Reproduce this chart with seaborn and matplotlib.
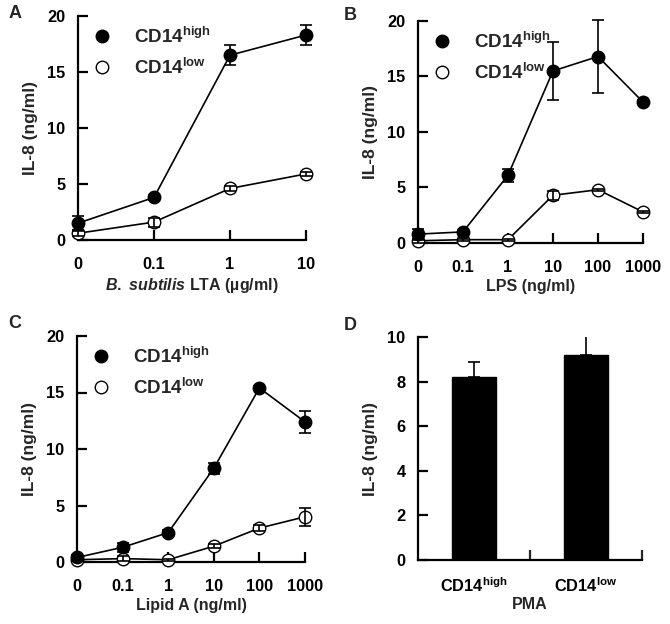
import seaborn as sns
import pandas as pd
import matplotlib.pyplot as plt
from matplotlib.lines import Line2D

# data
lta_doses = ["0", "0.1", "1", "10"]
lta_high = [1.5, 3.8, 16.5, 18.3]
lta_high_err = [0.6, 0.2, 0.9, 0.9]
lta_low = [0.6, 1.6, 4.6, 5.9]
lta_low_err = [0.2, 0.4, 0.2, 0.15]

lps_doses = ["0", "0.1", "1", "10", "100", "1000"]
lps_high = [0.8, 1.0, 6.1, 15.5, 16.8, 12.7]
lps_high_err = [0.5, 0.2, 0.6, 2.6, 3.3, 0.2]
lps_low = [0.2, 0.3, 0.3, 4.3, 4.8, 2.8]
lps_low_err = [0.2, 0.1, 0.1, 0.4, 0.1, 0.1]

lipa_doses = ["0", "0.1", "1", "10", "100", "1000"]
lipa_high = [0.4, 1.3, 2.6, 8.3, 15.4, 12.4]
lipa_high_err = [0.2, 0.4, 0.2, 0.5, 0.2, 1.0]
lipa_low = [0.2, 0.3, 0.2, 1.4, 3.0, 4.0]
lipa_low_err = [0.1, 0.2, 0.1, 0.2, 0.3, 0.8]

pma_groups = ["CD14$^{\\mathregular{high}}$", "CD14$^{\\mathregular{low}}$"]
pma_vals = [8.2, 9.2]
pma_err = [0.7, 0.95]

sns.set_style("ticks")
plt.rcParams['font.family'] = ['Liberation Sans', 'DejaVu Sans']
plt.rcParams['font.weight'] = 'bold'
plt.rcParams['axes.labelweight'] = 'bold'
plt.rcParams['mathtext.fontset'] = 'custom'
plt.rcParams['mathtext.rm'] = 'Liberation Sans:bold'
plt.rcParams['mathtext.it'] = 'Liberation Sans:bold:italic'
plt.rcParams['mathtext.bf'] = 'Liberation Sans:bold'

TICK_FS = 11.8
XLAB_FS = 11.5
YLAB_FS = 12.5
LEG_FS = 13.5
W, H = 670, 624
fig = plt.figure(figsize=(W / 100, H / 100), dpi=100)


def px_axes(l, r, t, b):
    return fig.add_axes([l / W, 1 - b / H, (r - l) / W, (b - t) / H])


def style_axes(ax, ymax, ystep):
    sns.despine(ax=ax)
    for s in ['left', 'bottom']:
        ax.spines[s].set_linewidth(1.6)
        ax.spines[s].set_color('black')
    ax.set_ylim(0, ymax)
    ax.set_yticks(range(0, ymax + 1, ystep))
    ax.tick_params(axis='both', direction='in', length=7, width=1.6,
                   labelsize=TICK_FS, colors='black')
    ax.tick_params(axis='y', pad=9)
    ax.tick_params(axis='x', pad=12)
    for lab in ax.get_xticklabels() + ax.get_yticklabels():
        lab.set_fontweight('bold')


def dose_panel(ax, doses, high, high_err, low, low_err, xlabel):
    df = pd.DataFrame({'pos': list(range(len(doses))) * 2,
                       'il8': high + low,
                       'err': high_err + low_err,
                       'grp': ['high'] * len(doses) + ['low'] * len(doses)})
    for grp, face in [('low', 'white'), ('high', 'black')]:
        sub = df[df.grp == grp]
        sns.lineplot(data=sub, x='pos', y='il8', ax=ax, color='black', lw=1.2,
                     marker='o', markersize=9, markerfacecolor=face,
                     markeredgecolor='black', markeredgewidth=1.0,
                     clip_on=False, zorder=3)
        ax.errorbar(sub.pos, sub.il8, yerr=sub.err, fmt='none', ecolor='black',
                    elinewidth=1.2, capsize=4.5, capthick=1.2, clip_on=False,
                    zorder=4)
    ax.set_xlim(0, len(doses) - 1)
    ax.set_xticks(range(len(doses)))
    ax.set_xticklabels(doses)
    style_axes(ax, 20, 5)
    ax.set_xlabel(xlabel, fontsize=XLAB_FS, fontweight='bold', labelpad=3)
    ax.set_ylabel("IL-8 (ng/ml)", fontsize=YLAB_FS, fontweight='bold', labelpad=7)
    handles = [Line2D([], [], ls='none', marker='o', markersize=9,
                      markerfacecolor=f, markeredgecolor='black',
                      markeredgewidth=1.0) for f in ['black', 'white']]
    ax.legend(handles, ["CD14$^{\\mathregular{high}}$", "CD14$^{\\mathregular{low}}$"],
              loc='upper left', bbox_to_anchor=(0.03, 0.985), borderaxespad=0,
              frameon=False, handlelength=1, handletextpad=1.2,
              labelspacing=0.58, prop={'weight': 'bold', 'size': LEG_FS})


axA = px_axes(78, 306, 16, 240)
dose_panel(axA, lta_doses, lta_high, lta_high_err, lta_low, lta_low_err,
           "$\\mathit{B.\\ subtilis}$ LTA (µg/ml)")

axB = px_axes(418, 643, 21, 243)
dose_panel(axB, lps_doses, lps_high, lps_high_err, lps_low, lps_low_err,
           "LPS (ng/ml)")

axC = px_axes(77, 305, 336, 562)
dose_panel(axC, lipa_doses, lipa_high, lipa_high_err, lipa_low, lipa_low_err,
           "Lipid A (ng/ml)")

# panel D: bars
axD = px_axes(418, 642, 337, 560)
dfD = pd.DataFrame({'grp': pma_groups, 'val': pma_vals, 'err': pma_err})
sns.barplot(data=dfD, x='grp', y='val', ax=axD, color='black', width=0.4,
            saturation=1, edgecolor='black')
axD.errorbar(range(len(pma_vals)), pma_vals, yerr=[[0, 0], pma_err], fmt='none',
             ecolor='black', elinewidth=1.2, capsize=4.5, capthick=1.2)
axD.set_xlim(-0.5, 1.5)
style_axes(axD, 10, 2)
axD.tick_params(axis='x', which='major', length=0, pad=12)
axD.set_xticks([0.5, 1.5], minor=True)
axD.tick_params(axis='x', which='minor', direction='in', length=7, width=1.6)
axD.set_xlabel("PMA", fontsize=XLAB_FS, fontweight='bold', labelpad=1)
axD.set_ylabel("IL-8 (ng/ml)", fontsize=YLAB_FS, fontweight='bold', labelpad=7)

for letter, x, y in [("A", 15, 14), ("B", 350, 16), ("C", 15, 324), ("D", 350, 326)]:
    fig.text(x / W, 1 - y / H, letter, fontsize=13, fontweight='bold',
             ha='center', va='center')

fig.savefig("out.png", dpi=100)
